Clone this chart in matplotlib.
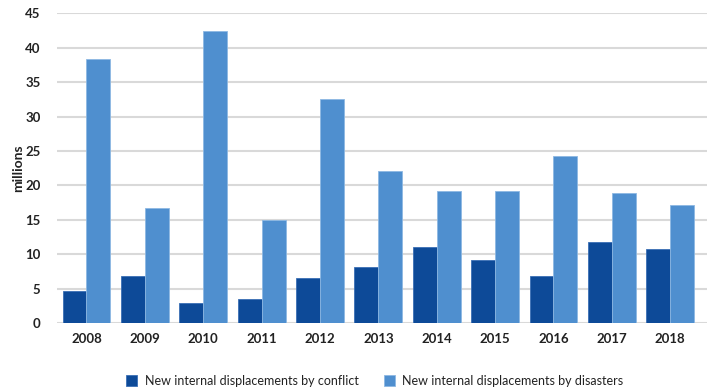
import matplotlib
matplotlib.use("Agg")
import matplotlib.pyplot as plt
import numpy as np

years = ["2008", "2009", "2010", "2011", "2012", "2013", "2014", "2015", "2016", "2017", "2018"]
conflict = [4.6, 6.8, 2.9, 3.5, 6.5, 8.2, 11.0, 9.1, 6.9, 11.8, 10.8]
disasters = [38.3, 16.7, 42.5, 15.0, 32.5, 22.1, 19.2, 19.2, 24.2, 18.9, 17.2]
series_names = ["New internal displacements by conflict", "New internal displacements by disasters"]
yticks = [0, 5, 10, 15, 20, 25, 30, 35, 40, 45]

c_conflict = "#0D4A98"
c_disaster = "#4F8FCF"

plt.rcParams["font.family"] = ["Lato", "DejaVu Sans"]

fig = plt.figure(figsize=(7.07, 3.92), dpi=100)
ax = fig.add_axes([0.081, 0.176, 0.919, 0.79])

x = np.arange(len(years))
w = 0.41
ax.bar(x - w / 2, conflict, width=w, color=c_conflict, edgecolor="#3A6FB5", linewidth=0.6,
       label=series_names[0], zorder=3)
ax.bar(x + w / 2, disasters, width=w, color=c_disaster, edgecolor="#8DB8E3", linewidth=0.6,
       label=series_names[1], zorder=3)

ax.set_ylim(0, 45)
ax.set_xlim(-0.5, 10.63)
ax.set_yticks(yticks)
ax.set_xticks(x)
ax.set_xticklabels(years)
ax.yaxis.grid(True, color="#D9D9D9", linewidth=1.5, zorder=0)
ax.set_axisbelow(True)
for s in ax.spines.values():
    s.set_visible(False)
ax.tick_params(axis="both", length=0, labelsize=9.5, colors="#222222")
ax.tick_params(axis="x", pad=7)
ax.tick_params(axis="y", pad=12)
for lab in ax.get_xticklabels() + ax.get_yticklabels():
    lab.set_fontweight("bold")
ax.set_ylabel("millions", fontsize=10, fontweight="bold", color="#222222", labelpad=1)

leg = fig.legend(loc="lower center", ncol=2, frameon=False, fontsize=9,
                 bbox_to_anchor=(0.53, -0.015), handlelength=0.9, handleheight=0.9,
                 columnspacing=2.0, handletextpad=0.6)
for t in leg.get_texts():
    t.set_color("#222222")

fig.savefig("out.png", dpi=100)
